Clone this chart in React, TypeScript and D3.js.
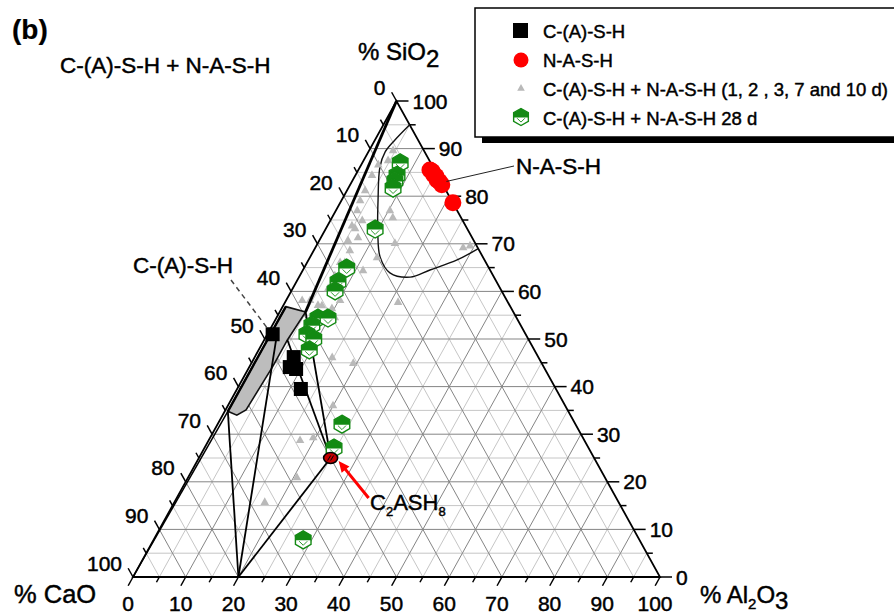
import React from 'react';
import * as d3 from 'd3';

// Compositions are [CaO, Al2O3, SiO2] in mol %
type Comp = [number, number, number];

const majorTicks = d3.range(0, 101, 10);
const allTicks = d3.range(0, 101, 5);
const gridValues = d3.range(5, 100, 5);

// C-(A)-S-H gels
const cashPoints: Comp[] = [
  [48.0, 1.0, 51.0],
  [46.4, 7.4, 46.2],
  [48.2, 7.7, 44.1],
  [47.2, 9.1, 43.7],
  [48.4, 12.1, 39.5],
];

// N-A-S-H gels
const nashPoints: Comp[] = [
  [0.9, 13.6, 85.5],
  [0.6, 14.2, 85.2],
  [0.7, 14.8, 84.5],
  [0.4, 15.4, 84.2],
  [0.6, 16.0, 83.4],
  [0.3, 16.6, 83.1],
  [0.2, 17.4, 82.4],
  [0.0, 21.4, 78.6],
];

// C-(A)-S-H + N-A-S-H at 1, 2, 3, 7 and 10 d
const earlyAgePoints: Comp[] = [
  [5.8, 4.5, 89.7], [7.8, 4.6, 87.6], [17.3, 3.5, 79.2], [18.9, 4.0, 77.1],
  [19.0, 6.0, 75.0], [21.2, 5.5, 73.3], [21.6, 7.0, 71.4], [12.7, 10.2, 77.1],
  [12.9, 11.5, 75.6], [15.2, 14.6, 70.2], [20.1, 12.7, 67.2], [24.1, 11.4, 64.5],
  [2.7, 28.0, 69.3], [1.2, 29.1, 69.7], [20.8, 21.4, 57.8], [38.8, 3.0, 58.2],
  [37.3, 4.5, 58.2], [35.3, 9.0, 55.7], [34.0, 9.5, 56.5], [34.4, 11.0, 54.6],
  [37.8, 7.6, 54.6], [49.9, 4.5, 45.6], [35.7, 19.3, 45.0], [39.1, 14.7, 46.2],
  [44.0, 19.9, 36.1], [53.9, 17.3, 28.8], [51.1, 19.5, 29.4], [58.4, 20.6, 21.0],
  [67.1, 17.1, 15.8], [30.6, 9.1, 60.3], [35.6, 7.3, 57.1], [24.5, 6.8, 68.7],
  [26.7, 7.1, 66.2], [31.6, 10.2, 58.2], [15.3, 3.4, 81.3], [21.5, 4.6, 73.9],
  [23.8, 5.4, 70.8], [27.6, 6.2, 66.2], [30.0, 6.6, 63.4], [32.6, 6.7, 60.7],
  [36.3, 6.5, 57.2], [12.4, 3.1, 84.5], [10.1, 3.2, 86.7],
];

// C-(A)-S-H + N-A-S-H at 28 d
const day28Points: Comp[] = [
  [5.8, 7.2, 87.0], [7.7, 7.9, 84.4], [8.7, 8.1, 83.2], [9.8, 8.5, 81.7],
  [17.5, 9.4, 73.1], [27.0, 8.1, 64.9], [30.1, 7.9, 62.0], [31.6, 8.3, 60.1],
  [37.7, 7.9, 54.4], [35.8, 9.8, 54.4], [39.6, 7.5, 52.9], [41.5, 7.5, 51.0],
  [40.7, 9.3, 50.0], [42.7, 9.6, 47.7], [44.3, 23.6, 32.1], [48.3, 24.6, 27.1],
  [63.8, 28.4, 7.8],
];

// Boundary of the N-A-S-H compositional field
const nashBoundary: Comp[] = [
  [0, 5, 95], [4.4, 3.8, 91.8], [7.5, 3.2, 89.3], [10.1, 3.8, 86.1],
  [13.9, 6.9, 79.2], [17.4, 10.3, 72.3], [19.5, 13.3, 67.2], [19.3, 16.8, 63.9],
  [15.9, 21.1, 63.0], [11.4, 24.1, 64.5], [5.2, 28.2, 66.6], [0, 31, 69],
];

// C-(A)-S-H compositional field
const cashRegion: Comp[] = [
  [42.6, 0.6, 56.8], [39.4, 4.9, 55.7], [45.8, 4.4, 49.8], [51.4, 4.4, 44.2],
  [61.0, 3.9, 35.1], [63.3, 2.7, 34.0], [64.6, 0.6, 34.8], [55.2, 0.6, 44.2],
];

// Phase compositions used by the tie lines
const sio2: Comp = [0, 0, 100];
const cao: Comp = [100, 0, 0];
const c2ash8: Comp = [50, 25, 25];
const c4ah13: Comp = [80, 20, 0];
const cshLowCa: Comp = [39.4, 4.9, 55.7];
const cshLowCaEdge: Comp = [42.6, 0.6, 56.8];
const cshMidA: Comp = [45.8, 4.4, 49.8];
const cshMidB: Comp = [47.5, 2.0, 50.5];
const cshHighCa: Comp = [64.6, 0.6, 34.8];

const FONT = 'Liberation Sans, Arial, Helvetica, sans-serif';
const GREEN = '#138a13';

const xS = d3.scaleLinear().domain([0, 100]).range([133, 660]);
const yS = d3.scaleLinear().domain([0, 100]).range([577, 101]);

function pos(p: Comp): [number, number] {
  const t = p[0] + p[1] + p[2];
  const a = (p[1] / t) * 100;
  const s = (p[2] / t) * 100;
  return [xS(a + s / 2), yS(s)];
}

const seg = (p: Comp, q: Comp) => {
  const [x1, y1] = pos(p);
  const [x2, y2] = pos(q);
  return { x1, y1, x2, y2 };
};

// unit vector along the CaO–SiO2 edge (bottom-left to apex)
const edgeDx = xS(50) - xS(0);
const edgeDy = yS(100) - yS(0);
const edgeLen = Math.hypot(edgeDx, edgeDy);
const ux = edgeDx / edgeLen;
const uy = edgeDy / edgeLen;

function hexPath(r: number) {
  const w = r * Math.cos(Math.PI / 6);
  return `M0,${-r}L${w},${-r / 2}L${w},${r / 2}L0,${r}L${-w},${r / 2}L${-w},${-r / 2}Z`;
}
function hexTopPath(r: number) {
  const w = r * Math.cos(Math.PI / 6);
  return `M0,${-r}L${w},${-r / 2}L${w},0.5L${-w},0.5L${-w},${-r / 2}Z`;
}

const HexMarker = ({ x, y, r = 9 }: { x: number; y: number; r?: number }) => (
  <g transform={`translate(${x},${y})`}>
    <path d={hexPath(r)} fill="#fff" stroke={GREEN} strokeWidth={1.4} />
    <path d={hexTopPath(r)} fill={GREEN} />
    <path d={`M${-r * 0.45},${r * 0.15}L0,${r * 0.6}L${r * 0.45},${r * 0.15}`} fill="none" stroke={GREEN} strokeWidth={0.9} />
  </g>
);

const triPath = (s: number) => `M0,${-s}L${s * 0.95},${s * 0.7}L${-s * 0.95},${s * 0.7}Z`;

export default function App() {
  const line = d3.line<Comp>().x((d) => pos(d)[0]).y((d) => pos(d)[1]);
  const boundaryPath = d3
    .line<Comp>()
    .x((d) => pos(d)[0])
    .y((d) => pos(d)[1])
    .curve(d3.curveCatmullRom.alpha(0.5))(nashBoundary) as string;
  const closed = d3.line<Comp>().x((d) => pos(d)[0]).y((d) => pos(d)[1]).curve(d3.curveLinearClosed);
  const regionPath = closed(cashRegion) as string;

  const [cx, cy] = pos(c2ash8);
  const arrowTip: [number, number] = [cx + 8, cy + 3];
  const arrowStart: [number, number] = [cx + 38, cy + 40];
  const ang = Math.atan2(arrowTip[1] - arrowStart[1], arrowTip[0] - arrowStart[0]);
  const ah = 11;
  const aw = 5;
  const arrowHead = [
    arrowTip,
    [arrowTip[0] - ah * Math.cos(ang) + aw * Math.sin(ang), arrowTip[1] - ah * Math.sin(ang) - aw * Math.cos(ang)],
    [arrowTip[0] - ah * Math.cos(ang) - aw * Math.sin(ang), arrowTip[1] - ah * Math.sin(ang) + aw * Math.cos(ang)],
  ];

  const [sqx, sqy] = pos(cashPoints[0]);
  const [nx, ny] = pos(nashPoints[5]);

  const gridSets = gridValues.map((v) => ({
    v,
    major: v % 10 === 0,
    segs: [
      seg([100 - v, 0, v], [0, 100 - v, v]),
      seg([100 - v, v, 0], [0, v, 100 - v]),
      seg([v, 100 - v, 0], [v, 0, 100 - v]),
    ],
  }));

  const textStyle = { stroke: '#000', strokeWidth: 0.45, fill: '#000' };

  return (
    <svg
      width={894}
      height={614}
      viewBox="0 0 894 614"
      style={{ position: 'absolute', left: 0, top: 0, background: '#fff' }}
      fontFamily={FONT}
    >
      <rect width={894} height={614} fill="#fff" />

      {/* grid */}
      <g strokeWidth={1} fill="none">
        {gridSets.filter((g) => !g.major).map((g) =>
          g.segs.map((s, i) => <line key={`m${g.v}-${i}`} {...s} stroke="#c6c6c6" />)
        )}
        {gridSets.filter((g) => g.major).map((g) =>
          g.segs.map((s, i) => <line key={`M${g.v}-${i}`} {...s} stroke="#858585" />)
        )}
      </g>

      {/* frame */}
      <path d={closed([cao, [0, 100, 0], sio2]) as string} fill="none" stroke="#000" strokeWidth={1.8} />

      <g {...textStyle}>
        {/* SiO2 tick labels (right side) */}
        {majorTicks.map((s) => {
          const [x, y] = pos([0, 100 - s, s]);
          return (
            <text key={`rl${s}`} x={x + 16} y={y + 7.5} fontSize={21}>
              {s}
            </text>
          );
        })}
        {/* Al2O3 tick labels (bottom) */}
        {majorTicks.map((a) => {
          const [x] = pos([100 - a, a, 0]);
          return (
            <text key={`bl${a}`} x={x - 5} y={611} fontSize={21} textAnchor="middle">
              {a}
            </text>
          );
        })}
        {/* CaO tick labels (left side) */}
        {majorTicks.map((c) => {
          const [x, y] = pos([c, 0, 100 - c]);
          return (
            <text key={`ll${c}`} x={x - 11} y={y - 6.5} fontSize={21} textAnchor="end">
              {c}
            </text>
          );
        })}

        {/* axis titles */}
        <text x={358} y={60} fontSize={24}>
          % SiO<tspan dy={7}>2</tspan>
        </text>
        <text x={14} y={603} fontSize={25.5}>
          % CaO
        </text>
        <text x={700} y={603} fontSize={24}>
          % Al<tspan fontSize={15} dy={6}>2</tspan>
          <tspan dy={-6}>O</tspan>
          <tspan dy={6}>3</tspan>
        </text>
      </g>

      {/* ticks */}
      {allTicks.map((s) => {
        const [x, y] = pos([0, 100 - s, s]);
        const len = s % 10 === 0 ? 12 : 6;
        return <line key={`rs${s}`} x1={x} y1={y} x2={x + len} y2={y} stroke="#000" strokeWidth={1.5} />;
      })}
      {allTicks.map((a) => {
        const [x, y] = pos([100 - a, a, 0]);
        const len = a % 10 === 0 ? 10 : 6;
        return <line key={`bs${a}`} x1={x} y1={y} x2={x - ux * len} y2={y - uy * len} stroke="#000" strokeWidth={1.5} />;
      })}
      {allTicks.map((c) => {
        const [x, y] = pos([c, 0, 100 - c]);
        const len = c % 10 === 0 ? 10 : 6;
        return <line key={`ls${c}`} x1={x} y1={y} x2={x - ux * len} y2={y + uy * len} stroke="#000" strokeWidth={1.5} />;
      })}

      {/* N-A-S-H field boundary */}
      <path d={boundaryPath} fill="none" stroke="#111" strokeWidth={1.4} />

      {/* early-age compositions */}
      {earlyAgePoints.map((p, i) => {
        const [x, y] = pos(p);
        return <path key={`ea${i}`} d={triPath(4.5)} transform={`translate(${x},${y})`} fill="#b9b9b9" />;
      })}

      {/* C-(A)-S-H field */}
      <path d={regionPath} fill="#bdbdbd" stroke="#111" strokeWidth={1.6} />

      {/* tie lines */}
      <g stroke="#000" fill="none">
        <line {...seg(sio2, cshLowCa)} strokeWidth={2.8} />
        <line {...seg(cshLowCaEdge, cshHighCa)} strokeWidth={2.4} />
        <line {...seg(cshHighCa, cao)} strokeWidth={1.5} />
        <line {...seg(cshLowCa, c2ash8)} strokeWidth={1.8} />
        <line {...seg(cshMidA, c2ash8)} strokeWidth={1.8} />
        <line {...seg(cshMidB, c4ah13)} strokeWidth={1.8} />
        <line {...seg(cshHighCa, c4ah13)} strokeWidth={1.8} />
        <line {...seg(c2ash8, c4ah13)} strokeWidth={1.8} />
      </g>

      {/* 28 d compositions */}
      {day28Points.map((p, i) => {
        const [x, y] = pos(p);
        return <HexMarker key={`d28${i}`} x={x} y={y} />;
      })}

      {/* C-(A)-S-H */}
      {cashPoints.map((p, i) => {
        const [x, y] = pos(p);
        return <rect key={`cs${i}`} x={x - 7} y={y - 7} width={14} height={14} fill="#000" />;
      })}

      {/* N-A-S-H */}
      {nashPoints.map((p, i) => {
        const [x, y] = pos(p);
        return <circle key={`na${i}`} cx={x} cy={y} r={8.5} fill="#ff0000" />;
      })}

      {/* C2ASH8 */}
      <ellipse cx={cx} cy={cy} rx={7} ry={5.5} fill="#c40000" stroke="#000" strokeWidth={1.6} />
      <line x1={cx - 3} y1={cy + 2.5} x2={cx} y2={cy - 2.5} stroke="#000" strokeWidth={1} />
      <line x1={cx} y1={cy + 2.5} x2={cx + 3} y2={cy - 2.5} stroke="#000" strokeWidth={1} />
      <line x1={arrowStart[0]} y1={arrowStart[1]} x2={arrowTip[0] - 6 * Math.cos(ang)} y2={arrowTip[1] - 6 * Math.sin(ang)} stroke="#ff0000" strokeWidth={3} />
      <polygon points={arrowHead.map((p) => p.join(',')).join(' ')} fill="#ff0000" />

      {/* annotations */}
      <line x1={231} y1={280} x2={sqx - 6} y2={sqy - 7} stroke="#444" strokeWidth={1.5} strokeDasharray="5,4" />
      <line x1={nx + 7} y1={ny} x2={514} y2={166} stroke="#222" strokeWidth={1} />

      <g {...textStyle}>
        <text x={370} y={510} fontSize={22}>
          C<tspan fontSize={13} dy={6}>2</tspan>
          <tspan dy={-6}>ASH</tspan>
          <tspan fontSize={13} dy={6}>8</tspan>
        </text>
        <text x={133} y={273} fontSize={22.5}>
          C-(A)-S-H
        </text>
        <text x={516} y={174} fontSize={22.5}>
          N-A-S-H
        </text>
        <text x={12} y={39} fontSize={28} fontWeight="bold" strokeWidth={0.2}>
          (b)
        </text>
        <text x={60} y={73} fontSize={22.5}>
          C-(A)-S-H + N-A-S-H
        </text>
      </g>

      {/* legend */}
      <g>
        <rect x={482} y={14} width={430} height={129} fill="#000" />
        <rect x={475} y={8} width={430} height={129} fill="#fff" stroke="#000" strokeWidth={1.5} />
        <rect x={513} y={23} width={15} height={15} fill="#000" />
        <circle cx={521} cy={60} r={7.5} fill="#ff0000" />
        <path d={triPath(4)} transform="translate(521,88)" fill="#b9b9b9" />
        <HexMarker x={521} y={117} r={8.5} />
        <g fontSize={18.5} {...textStyle}>
          <text x={543} y={38}>C-(A)-S-H</text>
          <text x={543} y={67}>N-A-S-H</text>
          <text x={543} y={96}>C-(A)-S-H + N-A-S-H (1, 2 , 3, 7 and 10 d)</text>
          <text x={543} y={125}>C-(A)-S-H + N-A-S-H 28 d</text>
        </g>
      </g>
    </svg>
  );
}
